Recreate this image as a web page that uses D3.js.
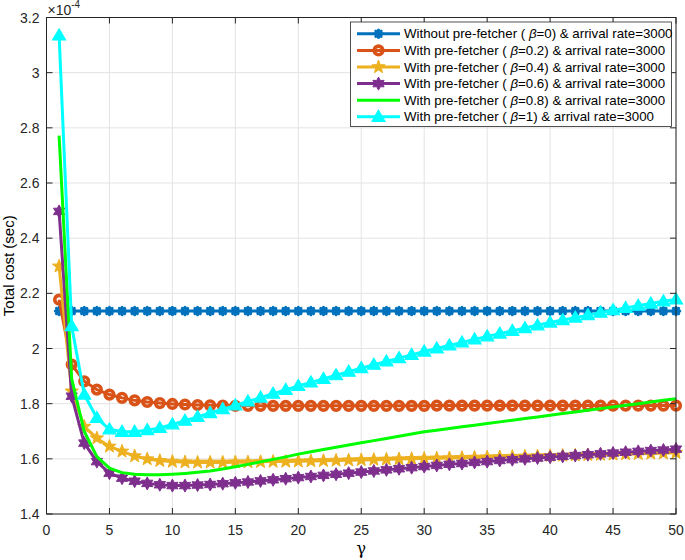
<!DOCTYPE html>
<html>
<head>
<meta charset="utf-8">
<script src="https://cdn.jsdelivr.net/npm/d3@7"></script>
<style>
  body { margin: 0; background: #fff; }
  svg text { font-family: "Liberation Sans", Arial, Helvetica, sans-serif; }
</style>
</head>
<body>
<svg id="chart" width="685" height="560"></svg>
<script>
// gamma values 1..50
const gamma = [1,2,3,4,5,6,7,8,9,10,11,12,13,14,15,16,17,18,19,20,21,22,23,24,25,
  26,27,28,29,30,31,32,33,34,35,36,37,38,39,40,41,42,43,44,45,46,47,48,49,50];

// total cost, in units of 1e-4 sec
const noPrefetch = [2.136,2.136,2.136,2.136,2.136,2.136,2.136,2.136,2.136,2.136,
  2.136,2.136,2.136,2.136,2.136,2.136,2.136,2.136,2.136,2.136,
  2.136,2.136,2.136,2.136,2.136,2.136,2.136,2.136,2.136,2.136,
  2.136,2.136,2.136,2.136,2.136,2.136,2.136,2.136,2.136,2.136,
  2.136,2.136,2.136,2.136,2.136,2.136,2.136,2.136,2.136,2.136];
const beta02 = [2.177,1.942,1.881,1.851,1.833,1.821,1.812,1.806,1.802,1.799,
  1.797,1.795,1.794,1.793,1.792,1.792,1.792,1.792,1.792,1.792,
  1.792,1.792,1.792,1.792,1.792,1.792,1.792,1.792,1.792,1.792,
  1.793,1.793,1.793,1.793,1.793,1.793,1.793,1.793,1.793,1.793,
  1.793,1.793,1.793,1.793,1.793,1.793,1.793,1.793,1.793,1.793];
const beta04 = [2.298,1.845,1.717,1.675,1.645,1.627,1.610,1.599,1.593,1.590,
  1.588,1.587,1.587,1.587,1.588,1.588,1.589,1.590,1.590,1.591,
  1.592,1.593,1.594,1.595,1.596,1.597,1.598,1.599,1.600,1.601,
  1.602,1.603,1.604,1.605,1.606,1.607,1.608,1.609,1.610,1.611,
  1.612,1.613,1.614,1.615,1.616,1.617,1.618,1.619,1.620,1.622];
const beta06 = [2.497,1.827,1.657,1.590,1.548,1.530,1.519,1.511,1.506,1.503,
  1.503,1.505,1.507,1.510,1.513,1.516,1.520,1.524,1.528,1.532,
  1.536,1.540,1.544,1.548,1.552,1.556,1.560,1.564,1.568,1.572,
  1.576,1.580,1.583,1.587,1.590,1.594,1.597,1.600,1.603,1.606,
  1.609,1.612,1.615,1.618,1.621,1.624,1.627,1.630,1.632,1.635];
const beta08 = [2.772,1.890,1.699,1.608,1.566,1.550,1.544,1.542,1.542,1.544,
  1.547,1.551,1.556,1.563,1.571,1.580,1.589,1.598,1.607,1.617,
  1.626,1.634,1.642,1.650,1.658,1.666,1.674,1.682,1.690,1.698,
  1.704,1.710,1.716,1.722,1.728,1.734,1.740,1.746,1.752,1.758,
  1.764,1.770,1.776,1.782,1.788,1.794,1.800,1.806,1.812,1.818];
const beta10 = [3.135,2.081,1.833,1.748,1.707,1.698,1.698,1.704,1.712,1.725,
  1.738,1.752,1.766,1.780,1.794,1.808,1.822,1.836,1.850,1.864,
  1.877,1.890,1.903,1.916,1.929,1.941,1.953,1.965,1.977,1.989,
  2.000,2.011,2.022,2.033,2.044,2.054,2.064,2.074,2.084,2.094,
  2.103,2.112,2.121,2.130,2.139,2.147,2.155,2.163,2.171,2.178];

const xTicks = [0,5,10,15,20,25,30,35,40,45,50];
const yTicks = [1.4,1.6,1.8,2,2.2,2.4,2.6,2.8,3,3.2];

const series = [
  { pre: 'Without pre-fetcher ( ', beta: '0', values: noPrefetch, color: '#0072BD', marker: 'asterisk' },
  { pre: 'With pre-fetcher ( ', beta: '0.2', values: beta02, color: '#D95319', marker: 'circle' },
  { pre: 'With pre-fetcher ( ', beta: '0.4', values: beta04, color: '#EDB120', marker: 'pentagram' },
  { pre: 'With pre-fetcher ( ', beta: '0.6', values: beta06, color: '#7E2F8E', marker: 'hexagram' },
  { pre: 'With pre-fetcher ( ', beta: '0.8', values: beta08, color: '#00FF00', marker: 'none' },
  { pre: 'With pre-fetcher ( ', beta: '1', values: beta10, color: '#00FFFF', marker: 'triangle' }
];

const svg = d3.select('#chart');
const margin = { left: 46.5, right: 676, top: 17.5, bottom: 514 };
const AXIS = '#262626';

const x = d3.scaleLinear().domain([0, 50]).range([margin.left, margin.right]);
const y = d3.scaleLinear().domain([1.4, 3.2]).range([margin.bottom, margin.top]);

// grid
const grid = svg.append('g');
grid.selectAll('.gx').data(xTicks).enter().append('line')
  .attr('x1', d => x(d)).attr('x2', d => x(d))
  .attr('y1', margin.top).attr('y2', margin.bottom)
  .attr('stroke', '#e3e3e3').attr('stroke-width', 1);
grid.selectAll('.gy').data(yTicks).enter().append('line')
  .attr('x1', margin.left).attr('x2', margin.right)
  .attr('y1', d => y(d)).attr('y2', d => y(d))
  .attr('stroke', '#e3e3e3').attr('stroke-width', 1);

// marker shapes
function starPath(n, rOut, rIn) {
  const pts = [];
  for (let i = 0; i < 2 * n; i++) {
    const r = i % 2 === 0 ? rOut : rIn;
    const a = -Math.PI / 2 + i * Math.PI / n;
    pts.push([r * Math.cos(a), r * Math.sin(a)]);
  }
  return 'M' + pts.map(p => p[0].toFixed(2) + ',' + p[1].toFixed(2)).join('L') + 'Z';
}

function drawMarker(g, type, color) {
  if (type === 'asterisk') {
    const r = 3.8;
    const p = [];
    for (let i = 0; i < 4; i++) {
      const a = i * Math.PI / 4;
      p.push(`M${(-r * Math.cos(a)).toFixed(2)},${(-r * Math.sin(a)).toFixed(2)}L${(r * Math.cos(a)).toFixed(2)},${(r * Math.sin(a)).toFixed(2)}`);
    }
    g.append('path').attr('d', p.join('')).attr('stroke', color).attr('stroke-width', 3)
      .attr('stroke-linecap', 'round').attr('fill', 'none');
  } else if (type === 'circle') {
    g.append('circle').attr('r', 4.3).attr('fill', 'none').attr('stroke', color).attr('stroke-width', 3.6);
  } else if (type === 'pentagram') {
    g.append('path').attr('d', starPath(5, 7, 2.9)).attr('fill', color)
      .attr('stroke', color).attr('stroke-width', 1).attr('stroke-linejoin', 'miter');
  } else if (type === 'hexagram') {
    g.append('path').attr('d', starPath(6, 6.5, 3.6)).attr('fill', color)
      .attr('stroke', color).attr('stroke-width', 1);
  } else if (type === 'triangle') {
    g.append('path').attr('d', 'M0,-6.5L6.5,4.5L-6.5,4.5Z').attr('fill', color)
      .attr('stroke', color).attr('stroke-width', 1.2).attr('stroke-linejoin', 'miter');
  }
}

const line = d3.line().x((d, i) => x(gamma[i])).y(d => y(d));

const plot = svg.append('g');
series.forEach(s => {
  const g = plot.append('g');
  g.append('path').datum(s.values).attr('d', line)
    .attr('fill', 'none').attr('stroke', s.color).attr('stroke-width', 3)
    .attr('stroke-linejoin', 'round');
  if (s.marker !== 'none') {
    s.values.forEach((v, i) => {
      const mg = g.append('g').attr('transform', `translate(${x(gamma[i])},${y(v)})`);
      drawMarker(mg, s.marker, s.color);
    });
  }
});

// axes box
const axisG = svg.append('g');
axisG.append('rect')
  .attr('x', margin.left).attr('y', margin.top)
  .attr('width', margin.right - margin.left).attr('height', margin.bottom - margin.top)
  .attr('fill', 'none').attr('stroke', AXIS).attr('stroke-width', 1);

const tickLen = 6;
xTicks.forEach(t => {
  axisG.append('line').attr('x1', x(t)).attr('x2', x(t))
    .attr('y1', margin.bottom).attr('y2', margin.bottom - tickLen).attr('stroke', AXIS);
  axisG.append('line').attr('x1', x(t)).attr('x2', x(t))
    .attr('y1', margin.top).attr('y2', margin.top + tickLen).attr('stroke', AXIS);
  axisG.append('text').attr('x', x(t)).attr('y', margin.bottom + 21)
    .attr('text-anchor', 'middle').style('font-size', '14px').style('fill', AXIS)
    .text(t);
});
yTicks.forEach(t => {
  axisG.append('line').attr('x1', margin.left).attr('x2', margin.left + tickLen)
    .attr('y1', y(t)).attr('y2', y(t)).attr('stroke', AXIS);
  axisG.append('line').attr('x1', margin.right).attr('x2', margin.right - tickLen)
    .attr('y1', y(t)).attr('y2', y(t)).attr('stroke', AXIS);
  axisG.append('text').attr('x', margin.left - 7).attr('y', y(t) + 5)
    .attr('text-anchor', 'end').style('font-size', '14px').style('fill', AXIS)
    .text(t);
});

// exponent label
const ex = axisG.append('text').attr('x', margin.left + 1).attr('y', 15)
  .style('font-size', '14px').style('fill', AXIS);
ex.append('tspan').text('×10');
ex.append('tspan').attr('dy', -7).style('font-size', '10px').text('-4');

// axis labels
svg.append('text')
  .attr('transform', `translate(14,${(margin.top + margin.bottom) / 2}) rotate(-90)`)
  .attr('text-anchor', 'middle').style('font-size', '15px').style('fill', '#000')
  .text('Total cost (sec)');
svg.append('text')
  .attr('x', (margin.left + margin.right) / 2).attr('y', 554)
  .attr('text-anchor', 'middle').style('font-size', '16px').style('fill', '#000')
  .style('font-family', '"DejaVu Serif", serif')
  .text('γ');

// legend
const legend = svg.append('g');
legend.append('rect').attr('x', 350.5).attr('y', 22).attr('width', 321).attr('height', 104.5)
  .attr('fill', '#fff').attr('stroke', AXIS).attr('stroke-width', 0.8);
series.forEach((s, i) => {
  const ly = 33.8 + i * 16.6;
  const lg = legend.append('g');
  lg.append('line').attr('x1', 357).attr('x2', 400).attr('y1', ly).attr('y2', ly)
    .attr('stroke', s.color).attr('stroke-width', 3);
  if (s.marker !== 'none') {
    drawMarker(lg.append('g').attr('transform', `translate(378.5,${ly})`), s.marker, s.color);
  }
  const t = lg.append('text').attr('x', 404).attr('y', ly + 4.6)
    .style('font-size', '13.3px').style('fill', '#000');
  t.append('tspan').text(s.pre);
  t.append('tspan').style('font-style', 'italic').text('β');
  t.append('tspan').text(`=${s.beta}) & arrival rate=3000`);
});
</script>
</body>
</html>
